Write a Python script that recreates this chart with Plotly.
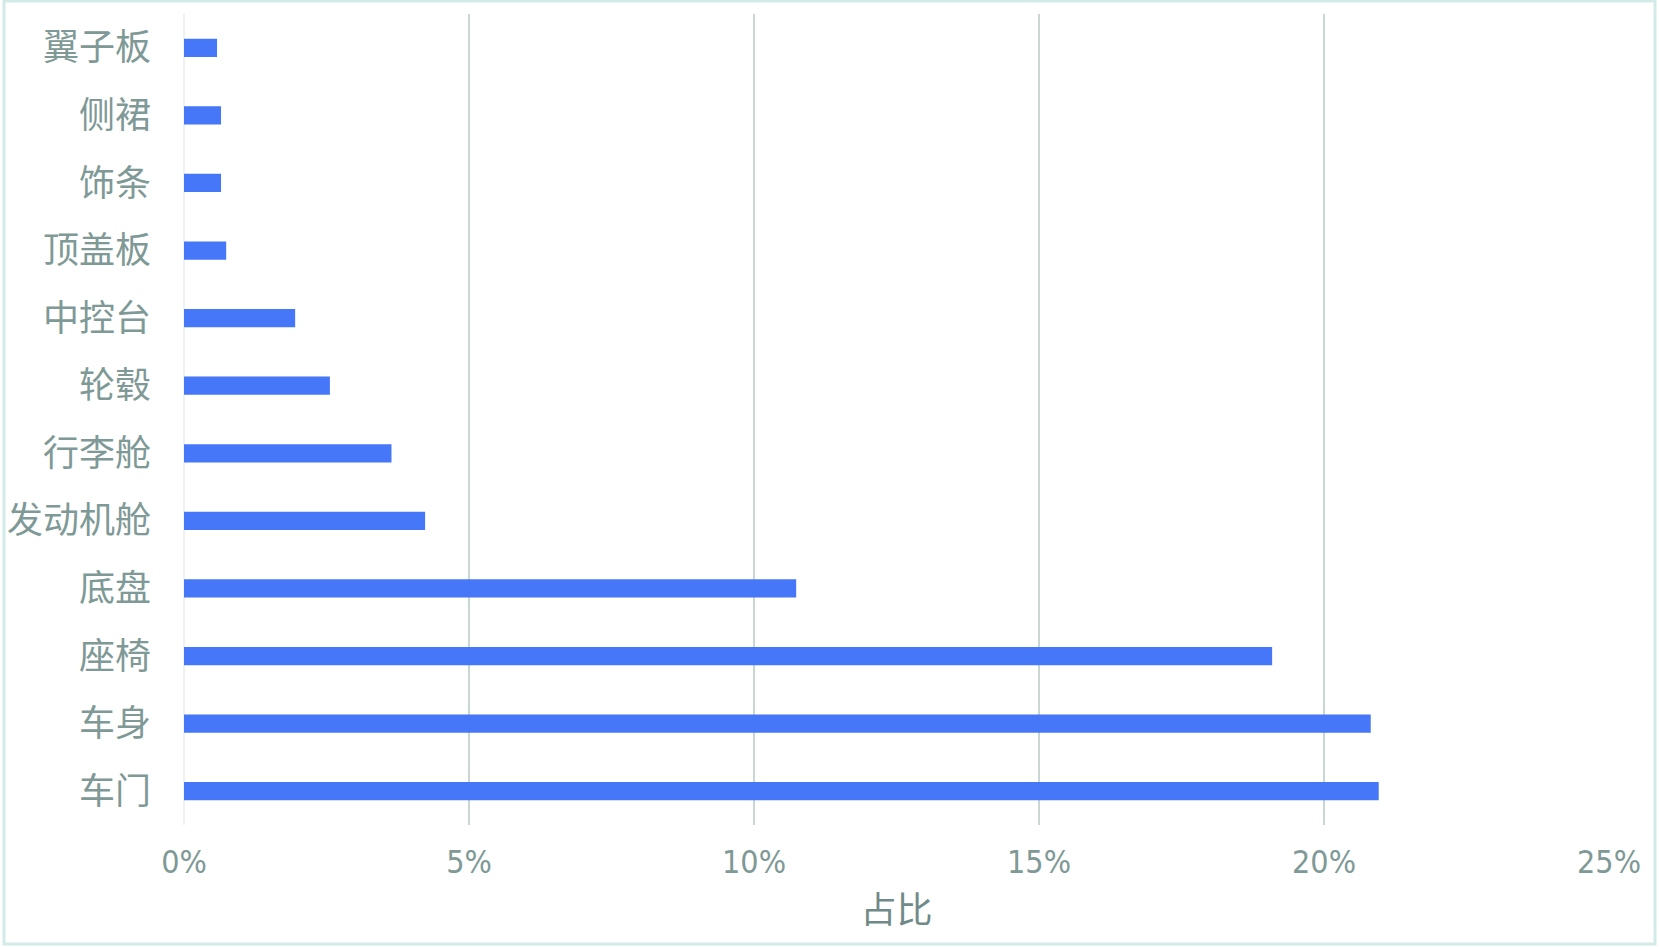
import plotly.graph_objects as go

categories = ["翼子板", "侧裙", "饰条", "顶盖板", "中控台", "轮毂", "行李舱", "发动机舱", "底盘", "座椅", "车身", "车门"]
shares = [0.0058, 0.0065, 0.0065, 0.0074, 0.0195, 0.0256, 0.0364, 0.0423, 0.1074, 0.1909, 0.2082, 0.2096]
tick_vals = [0, 0.05, 0.10, 0.15, 0.20, 0.25]
tick_text = ["0%", "5%", "10%", "15%", "20%", "25%"]
x_title = "占比"

text_color = "#7e9996"
grid_color = "#c9d6d3"

L, R, T, B = 184, 50, 14, 122
W, H = 1659, 947
pw, ph = W - L - R, H - T - B

fig = go.Figure(go.Bar(
    y=categories,
    x=shares,
    orientation="h",
    width=0.27,
    marker=dict(color="#4677f8", line=dict(width=0)),
))

fig.update_layout(
    width=W,
    height=H,
    paper_bgcolor="white",
    plot_bgcolor="white",
    margin=dict(l=L, r=R, t=T, b=B),
    showlegend=False,
    font=dict(family="Noto Sans CJK SC", color=text_color),
    xaxis=dict(
        range=[0, 0.25],
        tickvals=tick_vals,
        ticktext=tick_text,
        showgrid=True,
        gridcolor=grid_color,
        gridwidth=2,
        zeroline=True,
        zerolinecolor="#eef2f1",
        zerolinewidth=2,
        showline=False,
        ticks="outside",
        ticklen=9,
        tickcolor="rgba(0,0,0,0)",
        tickfont=dict(family="Liberation Sans Narrow, DejaVu Sans Condensed, Liberation Sans", size=32, color=text_color),
        title=dict(text=x_title, font=dict(family="Noto Sans CJK SC", size=36, color="#6f8a88"), standoff=17),
        automargin=False,
        fixedrange=True,
    ),
    yaxis=dict(
        categoryorder="array",
        categoryarray=categories[::-1],
        showgrid=False,
        zeroline=False,
        showline=False,
        ticks="",
        ticklabelstandoff=32,
        tickfont=dict(family="Noto Sans CJK SC", size=36, color=text_color),
        range=[-0.5, 11.5],
        automargin=False,
        fixedrange=True,
    ),
    shapes=[dict(type="rect", xref="paper", yref="paper",
                 x0=-(L - 4) / pw, x1=1 + (R - 4) / pw, y0=-(B - 3) / ph, y1=1 + (T - 1) / ph,
                 line=dict(color="#d3ebe8", width=3), fillcolor="rgba(0,0,0,0)", layer="below")],
)

fig.write_html("out.html", config={"displayModeBar": False},
               post_script="document.body.style.margin='0';")
